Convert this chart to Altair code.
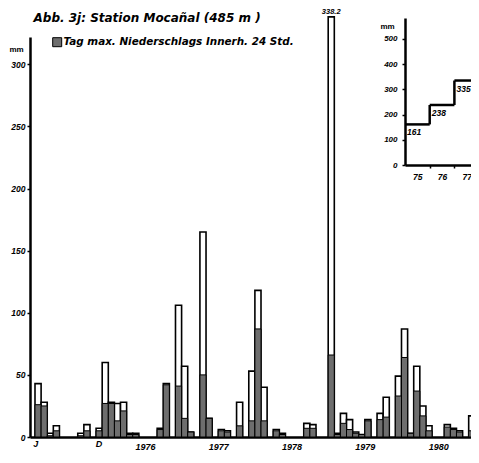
import altair as alt
import pandas as pd

# ---- data ----
# monthly precipitation, Jan 1975 .. Dec 1980 (mm)
month_total = [43, 28, 3, 9, 0, 0, 0, 3, 10, 0, 7, 60,
               28, 27, 28, 3, 3, 0, 0, 0, 7, 43, 0, 106,
               57, 4, 0, 165, 15, 0, 6, 5, 0, 28, 0, 53,
               118, 40, 0, 6, 3, 0, 0, 0, 11, 10, 0, 0,
               338.2, 3, 19, 14, 4, 2, 14, 0, 19, 32, 0, 49,
               87, 3, 57, 25, 9, 0, 0, 10, 7, 5, 0, 17]
# max. precipitation of one day within the month (mm)
month_max = [26, 25, 1, 5, 0, 0, 0, 1, 5, 0, 5, 27,
             27, 13, 21, 2, 2, 0, 0, 0, 6, 42, 0, 41,
             15, 4, 0, 50, 15, 0, 5, 4, 0, 9, 0, 13,
             87, 13, 0, 5, 2, 0, 0, 0, 7, 7, 0, 0,
             66, 2, 11, 6, 3, 2, 13, 0, 14, 16, 0, 33,
             64, 3, 37, 17, 5, 0, 0, 8, 6, 4, 0, 5]
first_year = 1975
legend_label = "Tag max. Niederschlags Innerh. 24 Std."
title_text = "Abb. 3j: Station Mocañal (485 m )"

# inset: annual totals
annual_years = [1975, 1976, 1977]
annual_totals = [161, 238, 335]

FONT = "Liberation Sans"
HEAD_FONT = "DejaVu Sans"

# ---- tables ----
df = pd.DataFrame({"m": list(range(len(month_total))),
                   "total": month_total, "maxday": month_max})
df["m2"] = df["m"] + 1
df["legend"] = legend_label
df = df[df["total"] > 0]

peak = df.loc[[df["total"].idxmax()]].copy()
peak["mc"] = peak["m"] + 0.5
peak["label"] = peak["total"].map(lambda v: f"{v:.1f}")

ann = pd.DataFrame({"year": annual_years, "total": annual_totals})
ann["year_end"] = ann["year"] + 1
ann["prev"] = ann["total"].shift(1)
ann["xl"] = ann["year"] + 0.37

txt = dict(font=FONT, fontStyle="italic", fontWeight="bold", color="black")

PW, PH = 441, 400   # plot area

# ---- main chart ----
xs = alt.Scale(domain=[0, PW / 6.25], nice=False, zero=False)
ys = alt.Scale(domain=[0, 322], nice=False)

x_axis = alt.Axis(
    values=[0.05, 6, 10.4, 12, 18, 24, 30, 36, 42, 48, 54, 60, 66],
    labelExpr=("datum.value == 0.05 ? 'J' : datum.value == 10.4 ? 'D' : "
               f"(datum.value % 12 == 6 ? '' + ({first_year} + floor(datum.value / 12)) : '')"),
    tickOpacity={"condition": {"test": "datum.value % 12 == 0", "value": 1}, "value": 0},
    labelPadding={"condition": {"test": "datum.value == 0.05 || datum.value == 10.4", "value": -2}, "value": 1},
    tickSize=4, tickWidth=1.5, tickColor="black",
    domainWidth=2.5, domainColor="black",
    labelFont=FONT, labelFontSize=9, labelFontStyle="italic", labelFontWeight="bold",
    labelColor="black", labelFlush=False, labelOverlap=False, grid=False,
    # chart heading, placed at the top-left of the figure
    title=title_text, titleX=3, titleY=-(PH + 16), titleAlign="left", titleAngle=0,
    titleBaseline="alphabetic", titleFont=HEAD_FONT, titleFontSize=12, titleFontStyle="italic",
    titleFontWeight="bold", titleColor="black")

y_axis = alt.Axis(
    values=[0, 50, 100, 150, 200, 250, 300],
    title="mm", titleAngle=0, titleX=-14, titleY=14, titleAlign="center",
    titleBaseline="alphabetic", titleFont=FONT, titleFontSize=8,
    titleFontWeight="bold", titleColor="black",
    tickSize=3, tickWidth=1.5, tickColor="black",
    domainWidth=2.5, domainColor="black",
    labelPadding=2, labelFont=FONT, labelFontSize=8.5, labelFontStyle="italic",
    labelFontWeight="bold", labelColor="black", grid=False)

outer = alt.Chart(df).mark_bar(fill="white", stroke="black", strokeWidth=1.6,
                               orient="vertical").encode(
    x=alt.X("m:Q", scale=xs, axis=x_axis),
    x2="m2",
    y=alt.Y("total:Q", scale=ys, axis=y_axis),
    y2=alt.datum(0),
)

inner = alt.Chart(df).mark_bar(stroke="black", strokeWidth=1, orient="vertical").encode(
    x="m:Q", x2="m2",
    y="maxday:Q",
    y2=alt.datum(0),
    color=alt.Color("legend:N", scale=alt.Scale(range=["#6e6e6e"]),
                    legend=alt.Legend(title=None, orient="none", legendX=22, legendY=0,
                                      symbolType="square", symbolSize=81,
                                      symbolStrokeColor="black", symbolStrokeWidth=1,
                                      labelFont=HEAD_FONT, labelFontSize=10.4,
                                      labelFontStyle="italic", labelFontWeight="bold",
                                      labelColor="black", labelOffset=1, labelLimit=400,
                                      padding=0)),
)

peak_text = alt.Chart(peak).mark_text(fontSize=7.5, baseline="bottom", dy=-1, **txt).encode(
    x="mc:Q", y="total:Q", text="label:N")

main = alt.layer(outer, inner, peak_text)

# ---- inset: annual totals ----
isx = alt.Scale(domain=[1975, 1978], range=[375, 449.1], nice=False, zero=False)
isy = alt.Scale(domain=[0, 583], range=[128, -19], nice=False)

ix_axis = alt.Axis(
    orient="bottom", offset=128 - PH,
    values=[1975.5, 1976, 1976.5, 1977, 1977.5, 1978],
    labelExpr="datum.value % 1 != 0 ? '' + (floor(datum.value) - 1900) : ''",
    tickOpacity={"condition": {"test": "datum.value % 1 == 0", "value": 1}, "value": 0},
    tickSize=3, tickWidth=1.5, tickColor="black",
    domainWidth=2.5, domainColor="black", labelPadding=4,
    labelFont=FONT, labelFontSize=8.5, labelFontStyle="italic", labelFontWeight="bold",
    labelColor="black", labelFlush=False, labelOverlap=False, grid=False, title=None)

iy_axis = alt.Axis(
    orient="left", offset=-375,
    values=[0, 100, 200, 300, 400, 500],
    title="mm", titleAngle=0, titleX=-18, titleY=-9, titleAlign="center",
    titleBaseline="alphabetic", titleFont=FONT, titleFontSize=8,
    titleFontWeight="bold", titleColor="black",
    tickSize=3, tickWidth=1.5, tickColor="black",
    domainWidth=2.5, domainColor="black", labelPadding=5,
    labelFont=FONT, labelFontSize=8, labelFontStyle="italic",
    labelFontWeight="bold", labelColor="black", grid=False)

steps_h = alt.Chart(ann).mark_rule(color="black", strokeWidth=2.5).encode(
    x=alt.X("year:Q", scale=isx, axis=ix_axis),
    x2="year_end",
    y=alt.Y("total:Q", scale=isy, axis=iy_axis),
)
steps_v = alt.Chart(ann.dropna()).mark_rule(color="black", strokeWidth=2.5).encode(
    x="year:Q", y="prev:Q", y2="total")
steps_t = alt.Chart(ann).mark_text(fontSize=8.5, baseline="top", dy=4, **txt).encode(
    x="xl:Q", y="total:Q", text="total:Q")

inset = alt.layer(steps_h, steps_v, steps_t)

chart = alt.layer(main, inset).resolve_scale(
    x="independent", y="independent"
).properties(
    width=PW, height=PH,
    padding={"left": 22, "top": 29, "right": 0, "bottom": 13},
    autosize=alt.AutoSizeParams(type="none"),
    background="white",
).configure_view(stroke=None).configure_axis(grid=False)

chart.save("out.html", embed_options={"renderer": "svg", "actions": False})
